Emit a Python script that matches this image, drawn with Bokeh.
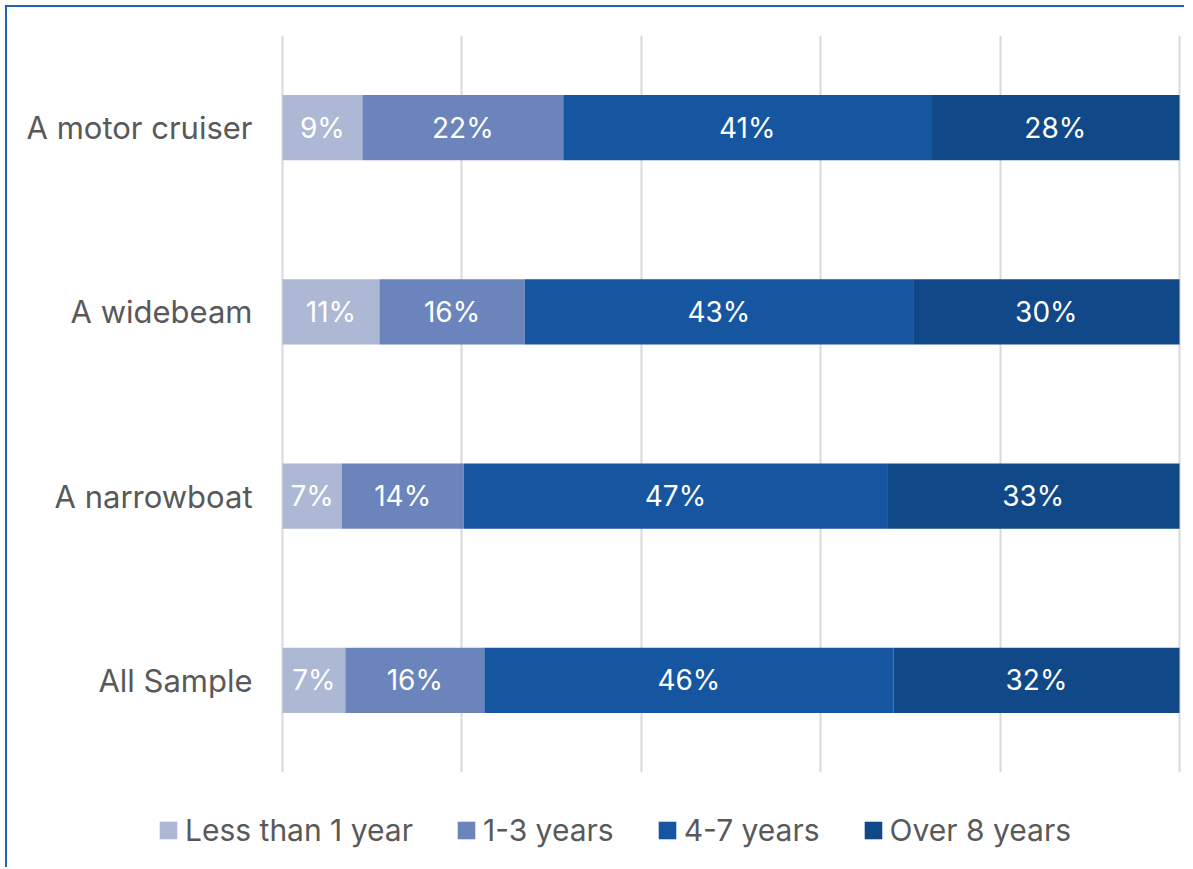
from bokeh.plotting import figure
from bokeh.models import ColumnDataSource, Legend, LegendItem, FactorRange
from bokeh.layouts import column
from bokeh.core.properties import value
from bokeh.embed import file_html
from bokeh.resources import INLINE

categories = ["All Sample", "A narrowboat", "A widebeam", "A motor cruiser"]
series = ["Less than 1 year", "1-3 years", "4-7 years", "Over 8 years"]
less_1 = [7.0, 6.6, 10.8, 8.9]
y1_3 = [15.5, 13.6, 16.2, 22.4]
y4_7 = [45.6, 47.2, 43.3, 41.0]
over_8 = [31.9, 32.6, 29.7, 27.7]
colors = ["#adb8d5", "#6b84bb", "#1656a0", "#114887"]

FONT = "Inter"
NAN = float("nan")

data = {"cat": categories, "s0": less_1, "s1": y1_3, "s2": y4_7, "s3": over_8}
src = ColumnDataSource(data)

# frame spans the whole width; the left part of the x range holds the category labels
p = figure(y_range=FactorRange(*categories), x_range=(-30.66, 100.22),
           width=1177, height=765, output_backend="svg", toolbar_location=None,
           min_border_left=0, min_border_right=3, min_border_top=28, min_border_bottom=0)
p.frame_width = 1174
p.frame_height = 737

keys = ["s0", "s1", "s2", "s3"]
renderers = p.hbar_stack(keys, y="cat", height=0.353, color=colors, source=src, line_color=None)

for i, k in enumerate(keys):
    lefts = []
    for j in range(len(categories)):
        lefts.append(sum(data[kk][j] for kk in keys[:i]))
    mids = [l + data[k][j] / 2 for j, l in enumerate(lefts)]
    labs = [f"{int(v + 0.5)}%" for v in data[k]]
    ls = ColumnDataSource(dict(x=mids, y=categories, t=labs))
    p.text(x="x", y="y", text="t", source=ls, text_color="white", text_align="center",
           text_baseline="middle", text_font=value(FONT), text_font_size="28px")

# category labels, right-aligned just left of the 0% line
p.text(x=0, y="cat", text="cat", source=src, x_offset=-30, text_align="right",
       text_baseline="middle", text_color="#595959", text_font=value(FONT),
       text_font_size="31px")

p.xaxis.visible = False
p.yaxis.visible = False
p.ygrid.grid_line_color = None
p.xgrid.ticker = [0, 20, 40, 60, 80, 100]
p.xgrid.grid_line_color = "#d9d9d9"
p.xgrid.grid_line_width = 2
p.outline_line_color = None

# legend strip below the chart
lg = figure(width=1177, height=95, output_backend="svg", toolbar_location=None,
            min_border_left=0, min_border_right=3, min_border_top=0, min_border_bottom=0,
            x_range=(0, 1), y_range=(0, 1))
lg.frame_width = 1174
lg.axis.visible = False
lg.grid.visible = False
lg.outline_line_color = None
dummies = [lg.hbar(y=[NAN], right=[NAN], height=0.5, color=c, line_color=None) for c in colors]

legend = Legend(items=[LegendItem(label=s, renderers=[r]) for s, r in zip(series, dummies)],
                orientation="horizontal", location=(150, 19),
                label_text_font=FONT, label_text_font_size="30px", label_text_color="#595959",
                glyph_width=22, glyph_height=22, label_standoff=6, spacing=42,
                padding=0, margin=0,
                border_line_color=None, background_fill_alpha=0)
lg.add_layout(legend, "center")

layout = column(p, lg, spacing=0)
layout.styles = {"border-left": "2px solid #1f63b5", "border-top": "2px solid #1f63b5",
                 "margin-left": "5px", "margin-top": "5px"}

open("out.html", "w").write(file_html(layout, INLINE))
